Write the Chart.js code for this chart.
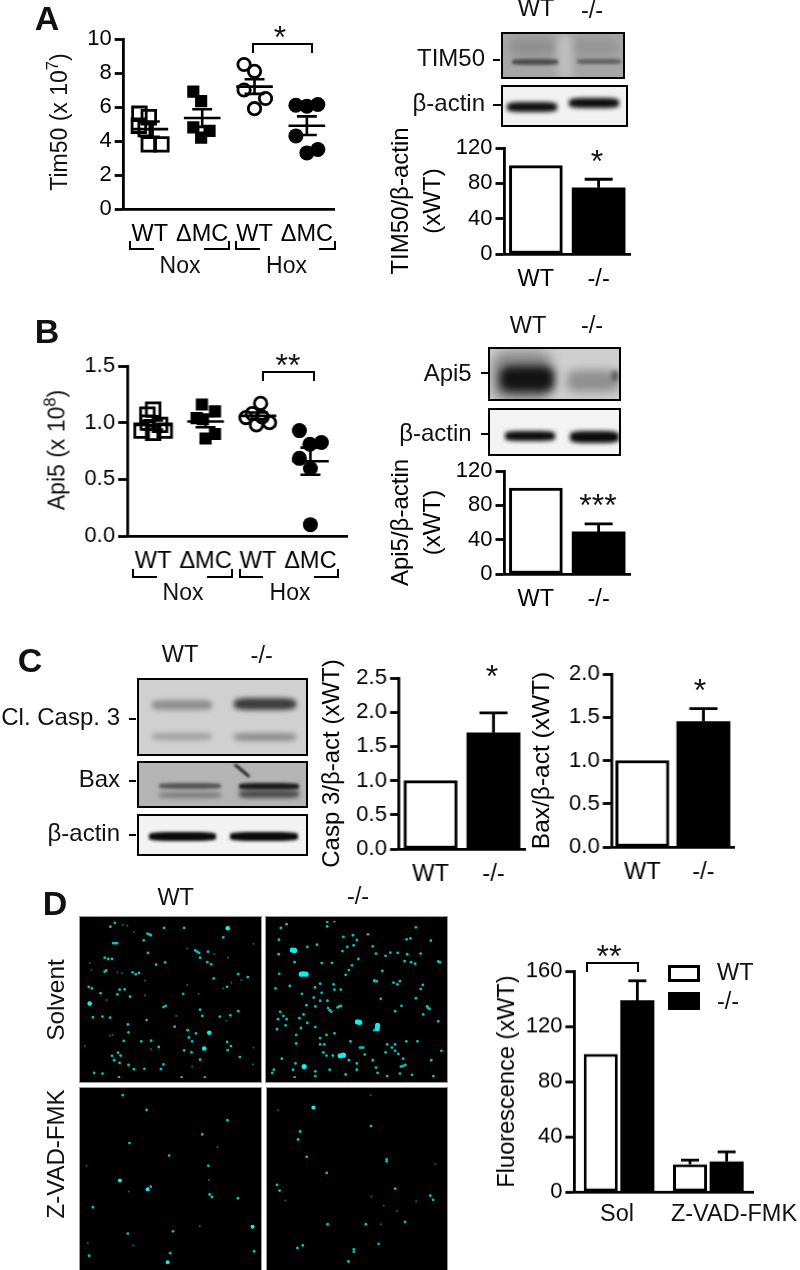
<!DOCTYPE html>
<html>
<head>
<meta charset="utf-8">
<script src="https://cdn.jsdelivr.net/npm/chart.js@4"></script>
<style>
  html, body { margin: 0; padding: 0; background: #fff; }
  #page { position: relative; width: 800px; height: 1270px; overflow: hidden; font-family: "Liberation Sans", Arial, sans-serif; color: #111; filter: blur(0.4px); }
  #page canvas { position: absolute; }
  .t { position: absolute; white-space: nowrap; line-height: 1; }
  .t sup { font-size: 0.72em; line-height: 0; }
  .blot { position: absolute; box-sizing: border-box; border: 2px solid #000; overflow: hidden; }
  .band { position: absolute; border-radius: 25%; }
  .brk { position: absolute; box-sizing: border-box; border: 0 solid #000; }
</style>
</head>
<body>
<div id="page"></div>
<script>
// ===== PANEL A, scatter =====
const scatterLabels = ['WT', 'ΔMC', 'WT', 'ΔMC'];
const tim50NoxWt = [[0.80, 5.6], [0.79, 4.9], [0.98, 5.4], [0.98, 3.8], [1.22, 3.8], [0.92, 4.7]];
const tim50NoxMc = [[1.83, 6.9], [1.98, 6.35], [1.83, 4.8], [2.14, 4.6], [1.98, 4.2]];
const tim50HoxWt = [[2.80, 8.5], [3.0, 8.1], [2.80, 7.0], [3.21, 6.5], [3.0, 5.9]];
const tim50HoxMc = [[3.79, 6.1], [4.0, 6.05], [4.21, 6.15], [3.79, 4.3], [4.21, 3.5], [4.0, 3.3]];
const tim50Mean = [4.7, 5.35, 7.2, 4.9];
const tim50Sem = [0.45, 0.52, 0.43, 0.55];

// ===== PANEL A, bars =====
const barCats = ['WT', '-/-'];
const tim50Bars = [100, 75];
const tim50Err = [0, 9.6];

// ===== PANEL B, scatter =====
const api5NoxWt = [[1.0, 1.115], [0.89, 1.07], [1.13, 0.98], [0.78, 0.93], [1.22, 0.93], [1.0, 0.91], [0.90, 1.0]];
const api5NoxMc = [[1.93, 1.16], [2.18, 1.10], [1.83, 1.04], [1.95, 1.03], [2.18, 0.90], [2.0, 0.86]];
const api5HoxWt = [[3.05, 1.17], [2.77, 1.045], [3.22, 1.0], [2.97, 0.98], [2.89, 1.08], [3.08, 1.05]];
const api5HoxMc = [[3.79, 0.93], [3.99, 0.81], [4.21, 0.825], [3.79, 0.685], [4.0, 0.595], [4.0, 0.10]];
const api5Mean = [0.98, 1.01, 1.06, 0.66];
const api5Sem = [0.04, 0.05, 0.03, 0.12];

// ===== PANEL B, bars =====
const api5Bars = [100, 49];
const api5Err = [0, 9.5];

// ===== PANEL C, bars =====
const caspBars = [1.0, 1.7];
const caspErr = [0, 0.29];
const baxBars = [1.0, 1.45];
const baxErr = [0, 0.15];

// ===== PANEL D, bars =====
const fluoCats = ['Sol', 'Z-VAD-FMK'];
const fluoWt = [100, 20];
const fluoKo = [139, 22];
const fluoWtErr = [0, 3];
const fluoKoErr = [14, 7];

// ===== PANEL D, fluorescent spots =====
const solWtDots = [[337,116],[323,128],[492,132],[555,132],[445,152],[678,162],[428,171],[338,180],[596,207],[605,226],[630,207],[441,211],[305,226],[316,230],[328,230],[467,248],[495,241],[628,240],[640,247],[310,266],[305,270],[393,272],[413,274],[403,278],[648,291],[725,278],[755,287],[255,318],[265,323],[352,327],[368,326],[345,342],[292,338],[385,349],[552,340],[690,318],[497,378],[490,382],[605,390],[725,395],[700,408],[667,412],[437,423],[322,415],[268,414],[298,412],[378,437],[525,444],[612,410],[566,455],[570,478],[580,490],[592,465],[380,462],[365,489],[420,490],[451,488],[475,508],[555,519],[578,525],[690,492],[702,505],[692,518],[730,540],[605,548],[347,526],[328,536],[355,535],[335,550],[352,558],[380,565],[397,578],[430,577],[490,563],[482,578],[272,590],[298,592],[350,604],[547,604],[620,604],[440,150],[450,155],[332,180],[344,180],[590,203],[602,211]];
const solWtBig = [[692,133],[258,371],[634,463],[618,513]];
const solWtDim = [[362,122],[376,125],[397,145],[773,182],[565,197],[650,215],[693,226],[263,265],[258,243],[345,272],[360,275],[432,298],[735,297],[703,305],[311,360],[432,345],[565,312],[678,323],[600,340],[530,410],[688,425],[322,472],[330,470],[450,515],[580,570],[773,510],[772,563],[242,505]];
const solKoDots = [[850,120],[832,132],[977,127],[1000,110],[977,112],[1255,130],[1105,152],[1058,155],[1028,160],[1070,170],[826,169],[1226,168],[1302,172],[1238,165],[1120,190],[945,185],[915,192],[1025,205],[1040,192],[1060,187],[1130,213],[1175,210],[1198,211],[1228,215],[1270,213],[825,215],[1160,220],[1075,230],[1055,250],[1220,237],[1240,240],[1253,245],[1325,238],[1330,240],[875,240],[960,243],[992,242],[1045,265],[827,277],[1150,268],[1125,300],[1035,280],[1205,300],[1197,310],[1185,305],[955,308],[1277,312],[1270,325],[997,310],[1000,327],[1020,327],[939,320],[860,315],[815,323],[960,337],[898,340],[935,352],[955,362],[1145,356],[1255,354],[978,362],[1210,378],[1290,380],[1298,388],[940,380],[912,376],[985,392],[1015,380],[1190,395],[830,397],[840,410],[850,420],[847,440],[890,417],[823,420],[903,405],[1278,405],[1325,427],[915,432],[940,445],[895,448],[820,452],[1125,455],[975,470],[1000,465],[955,480],[880,470],[1050,490],[1190,500],[1180,510],[1225,490],[1260,490],[880,497],[955,500],[968,500],[1085,510],[1160,525],[1190,520],[965,525],[975,535],[995,535],[1095,532],[1200,530],[1165,500],[835,545],[810,580],[805,590],[878,560],[870,580],[940,585],[940,600],[1045,550],[1215,545],[1215,568],[1303,550],[1070,560],[1070,580],[985,580],[875,604],[1035,595],[1135,590],[1165,600],[1205,592],[1243,596],[1310,600],[1335,520],[1130,573],[1120,550],[980,385],[990,396],[1010,383],[1020,378],[1293,384],[1125,298],[1132,300],[1080,510],[1090,510],[1208,570],[1222,565]];
const solKoBig = [[868,202],[875,203],[896,278],[903,277],[911,278],[1072,429],[1079,430],[1135,440],[1134,450],[1018,536],[1028,534],[905,570]];
const zvadWtDots = [[437,81],[691,113],[612,157],[383,184],[508,223],[631,255],[450,320],[635,344],[642,352],[724,356],[268,384],[520,459],[378,466],[511,527],[775,521],[256,535],[362,35]];
const zvadWtBig = [[353,301],[440,328],[770,445],[503,555]];
const zvadWtDim = [[381,335],[604,443],[252,495],[395,503],[633,299],[248,255],[660,197]];
const zvadKoDots = [[1114,131],[891,148],[885,173],[912,227],[1163,235],[1163,241],[975,277],[819,314],[827,332],[1190,326],[1300,348],[1309,361],[1221,430],[978,437],[1098,437],[900,503],[883,511],[1138,498],[1060,515],[1060,523],[1043,553]];
const zvadKoBig = [[933,73]];
const zvadKoDim = [[1113,35],[845,363],[1115,351],[1154,379],[1256,366],[1196,395],[1145,437],[822,82],[1316,250]];

const ink = '#000';
const fontFam = '"Liberation Sans", Arial, sans-serif';
const page = document.getElementById('page');

// --- html helpers ---
function txt(s, x, y, size, opt) {
  opt = opt || {};
  const d = document.createElement('div');
  d.className = 't';
  d.innerHTML = s;
  d.style.left = x + 'px';
  d.style.top = y + 'px';
  d.style.fontSize = size + 'px';
  if (opt.bold) d.style.fontWeight = 'bold';
  const tx = opt.right ? '-100%' : (opt.left ? '0' : '-50%');
  d.style.transform = `translate(${tx},-50%)` + (opt.rot ? ` rotate(${opt.rot}deg)` : '');
  page.appendChild(d);
}
function bracket(x, y, w, h, sides) {
  const d = document.createElement('div');
  d.className = 'brk';
  d.style.cssText = `left:${x}px;top:${y}px;width:${w}px;height:${h}px;`;
  sides.split(',').forEach(s => { d.style['border' + s + 'Width'] = '2.5px'; });
  page.appendChild(d);
}
function dash(x, y, w) { bracket(x, y, w, 2, 'Top'); }
function blot(x, y, w, h, bg, bands) {
  const p = document.createElement('div');
  p.className = 'blot';
  p.style.cssText = `left:${x}px;top:${y}px;width:${w}px;height:${h}px;background:${bg};`;
  bands.forEach(b => {
    const d = document.createElement('div');
    d.className = 'band';
    d.style.cssText = `left:${b[0] - x}px;top:${b[1] - y}px;width:${b[2]}px;height:${b[3]}px;background:${b[4]};filter:blur(${b[5]}px);` + (b[6] ? `transform:rotate(${b[6]}deg);` : '');
    p.appendChild(d);
  });
  page.appendChild(p);
}

// --- error bars on top of the bar elements ---
const errBars = {
  id: 'errBars',
  afterDatasetsDraw(chart, args, opts) {
    if (!opts.errs) return;
    const ctx = chart.ctx, y = chart.scales.y;
    chart.data.datasets.forEach((ds, i) => {
      chart.getDatasetMeta(i).data.forEach((el, j) => {
        const e = opts.errs[i][j];
        if (!e) return;
        const top = y.getPixelForValue(ds.data[j] + e), base = y.getPixelForValue(ds.data[j]);
        ctx.save();
        ctx.strokeStyle = ink;
        ctx.lineWidth = 2.8;
        ctx.beginPath();
        ctx.moveTo(el.x, base); ctx.lineTo(el.x, top);
        ctx.moveTo(el.x - opts.cap, top); ctx.lineTo(el.x + opts.cap, top);
        ctx.stroke();
        ctx.restore();
      });
    });
  }
};

// --- canvas placed so the plot area lands on a given box ---
function frame(b) {
  const lh = b.titleSize * (b.titleLH || 1.2);
  const left = b.titleX - lh / 2, pT = 34, pR = 10, xH = 48;
  const c = document.createElement('canvas');
  const W = b.right + pR - left, H = b.bottom + xH - (b.top - pT);
  c.width = W; c.height = H;
  c.style.left = left + 'px';
  c.style.top = (b.top - pT) + 'px';
  c.style.width = W + 'px';
  c.style.height = H + 'px';
  page.appendChild(c);
  return { c, pT, pR, xH, yW: b.left - left, lh };
}
function yAxis(b, f) {
  return {
    min: b.min, max: b.max,
    ticks: { stepSize: b.step, color: ink, padding: 3, font: { family: fontFam, size: 22 }, callback: b.fmt || (v => v) },
    border: { display: true, color: ink, width: 2.8 },
    grid: { drawOnChartArea: false, drawTicks: true, tickLength: 9, tickWidth: 2.8, tickColor: ink },
    title: { display: !!b.title, text: b.title, color: ink, padding: 0, font: { family: fontFam, size: b.titleSize, lineHeight: b.titleLH || 1.2 } },
    afterFit(s) { s.width = f.yW; }
  };
}
function xBase(f, pad) {
  return {
    border: { display: true, color: ink, width: 2.8 },
    grid: { display: false },
    afterFit(s) { s.height = f.xH; },
    ticks: { color: ink, padding: pad, autoSkip: false, maxRotation: 0, minRotation: 0, font: { family: fontFam, size: 23.5 } }
  };
}

function scatterPanel(b, groups, mean, sem) {
  const f = frame(b);
  const marks = [
    { pointStyle: 'rect', radius: 9.6, fill: 'transparent', line: 2.8 },
    { pointStyle: 'rect', radius: 8.6, fill: ink, line: 0 },
    { pointStyle: 'circle', radius: 6.2, fill: 'transparent', line: 2.8 },
    { pointStyle: 'circle', radius: 7.5, fill: ink, line: 0 }
  ];
  const datasets = [];
  groups.forEach((g, i) => {
    const m = marks[i];
    datasets.push({
      data: g.map(p => ({ x: p[0], y: p[1] })),
      pointStyle: m.pointStyle, pointRadius: m.radius, pointBackgroundColor: m.fill,
      pointBorderColor: ink, pointBorderWidth: m.line, showLine: false
    });
    const c = i + 1, seg = pts => datasets.push({
      data: pts.map(p => ({ x: p[0], y: p[1] })), showLine: true, pointRadius: 0, borderColor: ink, borderWidth: 2.6
    });
    seg([[c - 0.35, mean[i]], [c + 0.35, mean[i]]]);
    seg([[c, mean[i] - sem[i]], [c, mean[i] + sem[i]]]);
    seg([[c - 0.19, mean[i] + sem[i]], [c + 0.19, mean[i] + sem[i]]]);
    seg([[c - 0.19, mean[i] - sem[i]], [c + 0.19, mean[i] - sem[i]]]);
  });
  const x = xBase(f, b.xPad);
  x.type = 'linear';
  x.min = b.xMin; x.max = b.xMax;
  x.afterBuildTicks = s => { s.ticks = [1, 2, 3, 4].map(v => ({ value: v })); };
  x.ticks.callback = v => scatterLabels[v - 1];
  new Chart(f.c, {
    type: 'scatter',
    data: { datasets },
    options: {
      responsive: false, animation: false,
      layout: { padding: { top: f.pT, right: f.pR, left: 0, bottom: 0 } },
      plugins: { legend: { display: false }, tooltip: { enabled: false } },
      scales: { x, y: yAxis(b, f) }
    }
  });
}

function barPanel(b, cats, series, errs) {
  const f = frame(b);
  const fills = ['#fff', ink];
  const x = xBase(f, b.xPad);
  if (b.hideX) x.ticks.display = false;
  new Chart(f.c, {
    type: 'bar',
    data: {
      labels: cats,
      datasets: series.length > 1
        ? series.map((s, i) => ({ data: s, backgroundColor: fills[i], borderColor: ink, borderWidth: i ? 0 : 3, borderSkipped: false, categoryPercentage: 0.82, barPercentage: 0.93 }))
        : [{ data: series[0], backgroundColor: fills, borderColor: ink, borderWidth: [3, 0], borderSkipped: false, barThickness: b.barW }]
    },
    options: {
      responsive: false, animation: false,
      layout: { padding: { top: f.pT, right: f.pR, left: 0, bottom: 0 } },
      plugins: { legend: { display: false }, tooltip: { enabled: false }, errBars: { errs, cap: b.cap } },
      scales: { x, y: yAxis(b, f) }
    },
    plugins: [errBars]
  });
}

function micrograph(x, y, w, h, xr, yr, dots, big, dim, bigR) {
  const box = document.createElement('div');
  box.style.cssText = `position:absolute;left:${x}px;top:${y}px;width:${w}px;height:${h}px;background:#000;box-shadow:0 0 0 1px #999;`;
  page.appendChild(box);
  const c = document.createElement('canvas');
  c.width = w; c.height = h;
  c.style.cssText = `left:${x}px;top:${y}px;width:${w}px;height:${h}px;`;
  page.appendChild(c);
  const pts = l => (l || []).map(p => ({ x: p[0], y: p[1] }));
  new Chart(c, {
    type: 'scatter',
    data: { datasets: [
      { data: pts(dim), pointRadius: 1.1, pointBackgroundColor: '#0a5f60', pointBorderWidth: 0 },
      { data: pts(dots), pointRadius: 1.4, pointBackgroundColor: '#05c2c5', pointBorderWidth: 0 },
      { data: pts(big), pointRadius: bigR, pointBackgroundColor: '#0bf0f0', pointBorderWidth: 0 }
    ] },
    options: {
      responsive: false, animation: false,
      layout: { padding: 0 },
      plugins: { legend: { display: false }, tooltip: { enabled: false } },
      scales: {
        x: { display: false, min: xr[0], max: xr[1] },
        y: { display: false, min: yr[0], max: yr[1], reverse: true }
      }
    }
  });
}

const oneDec = v => v.toFixed(1);

// ===== PANEL A =====
txt('A', 47, 18, 34, { bold: true });
scatterPanel({ left: 123.5, right: 337, top: 38.5, bottom: 209, min: 0, max: 10, step: 2, xMin: 0.5, xMax: 4.53, xPad: 3,
  titleX: 60, titleSize: 22 }, [tim50NoxWt, tim50NoxMc, tim50HoxWt, tim50HoxMc], tim50Mean, tim50Sem);
txt('Tim50 (x 10<sup>7</sup>)', 59, 122, 23, { rot: -90 });
bracket(252, 43, 61, 10, 'Top,Left,Right');
txt('*', 280, 37, 32);
bracket(129, 241, 25, 9, 'Left,Bottom'); bracket(204, 241, 26, 9, 'Right,Bottom');
bracket(235, 241, 25, 9, 'Left,Bottom'); bracket(319, 241, 17, 9, 'Right,Bottom');
txt('Nox', 180, 265, 23); txt('Hox', 286.5, 265, 23);

txt('WT', 536, 9, 23.5); txt('-/-', 592, 11, 23.5);
txt('TIM50', 485, 58, 24, { right: true }); dash(493, 59, 7);
txt('β-actin', 485, 103, 24, { right: true }); dash(493, 104, 8);
blot(501, 32, 124, 47, '#a6a6a6', [
  [508, 36, 45, 18, '#8f8f8f', 5], [568, 36, 48, 18, '#959595', 5], [556, 32, 14, 47, '#c0c0c0', 4],
  [510, 57, 46, 6, '#4c4c4c', 1.5], [575, 57, 44, 5, '#606060', 1.5]
]);
blot(501, 85, 127, 42, '#f1f1f1', [
  [505, 100, 50, 10, '#111', 2], [567, 96, 50, 10, '#0d0d0d', 2]
]);
barPanel({ left: 504, right: 630, top: 147.7, bottom: 254, min: 0, max: 120, step: 40, xPad: 3, barW: 53, cap: 14,
  title: ['TIM50/β-actin', '(xWT)'], titleX: 400.7, titleSize: 24, titleLH: 1.35 }, barCats, [tim50Bars], [tim50Err]);
txt('*', 597, 161, 32);

// ===== PANEL B =====
txt('B', 47, 331, 34, { bold: true });
scatterPanel({ left: 127, right: 350, top: 365.7, bottom: 536, min: 0, max: 1.5, step: 0.5, fmt: oneDec, xMin: 0.504, xMax: 4.71, xPad: 3,
  titleX: 57.3, titleSize: 22 }, [api5NoxWt, api5NoxMc, api5HoxWt, api5HoxMc], api5Mean, api5Sem);
txt('Api5 (x 10<sup>8</sup>)', 57, 450, 23, { rot: -90 });
bracket(262, 371, 53, 10, 'Top,Left,Right');
txt('**', 288, 365, 32);
bracket(132, 569, 25, 9, 'Left,Bottom'); bracket(207, 569, 26, 9, 'Right,Bottom');
bracket(239, 569, 24, 9, 'Left,Bottom'); bracket(314, 569, 25, 9, 'Right,Bottom');
txt('Nox', 183, 592, 23); txt('Hox', 290, 592, 23);

txt('WT', 528, 326, 23.5); txt('-/-', 592, 326, 23.5);
txt('Api5', 471.7, 372.7, 24, { right: true }); dash(481, 372, 7);
txt('β-actin', 471.7, 432.7, 24, { right: true }); dash(481, 433, 7);
blot(487.7, 347, 133, 54, '#cfcfcf', [
  [490, 349, 60, 50, '#8a8a8a', 6], [498, 364, 54, 26, '#141414', 4], [565, 368, 52, 22, '#8f8f8f', 5], [610, 369, 6, 10, '#555', 2]
]);
blot(487.7, 407.7, 133.5, 48, '#f3f3f3', [
  [503, 429, 50, 10, '#0c0c0c', 2], [568, 429, 49, 12, '#0c0c0c', 2]
]);
barPanel({ left: 504, right: 630, top: 471, bottom: 574.3, min: 0, max: 120, step: 40, xPad: 3, barW: 53, cap: 14,
  title: ['Api5/β-actin', '(xWT)'], titleX: 400.7, titleSize: 24, titleLH: 1.35 }, barCats, [api5Bars], [api5Err]);
txt('***', 598, 505, 32);

// ===== PANEL C =====
txt('C', 30, 660, 34, { bold: true });
txt('WT', 180, 655, 23.5); txt('-/-', 261.7, 656, 23.5);
txt('Cl. Casp. 3', 120, 717, 24, { right: true }); dash(129, 718, 7);
txt('Bax', 120, 779, 24, { right: true }); dash(129, 780, 7);
txt('β-actin', 120, 833, 24, { right: true }); dash(129, 834, 7);
blot(136.7, 678, 171.5, 78, '#d0d0d0', [
  [150, 698, 60, 10, '#8d8d8d', 2.5], [232, 696, 62, 12, '#3c3c3c', 2.5],
  [150, 731, 60, 7, '#a0a0a0', 2.5], [232, 731, 62, 8, '#8f8f8f', 2.5]
]);
blot(136.7, 760.7, 171.5, 47.5, '#b4b4b4', [
  [157, 781, 62, 6, '#555', 1.5], [157, 790, 62, 6, '#7b7b7b', 2],
  [237, 781, 60, 7, '#1a1a1a', 1.5], [237, 788, 60, 8, '#4b4b4b', 2], [230.5, 767, 20, 3, '#222', 0.8, 40]
]);
blot(136.7, 814, 171.5, 42, '#f2f2f2', [
  [147, 830, 67, 9, '#0a0a0a', 1.4], [228, 830, 68, 9, '#0a0a0a', 1.4]
]);
barPanel({ left: 399, right: 525, top: 678.3, bottom: 849.3, min: 0, max: 2.5, step: 0.5, fmt: oneDec, xPad: 3, barW: 53, cap: 14,
  title: 'Casp 3/β-act (xWT)', titleX: 332.7, titleSize: 24 }, barCats, [caspBars], [caspErr]);
txt('*', 492, 676, 32);
barPanel({ left: 611.7, right: 734, top: 674.3, bottom: 847.3, min: 0, max: 2, step: 0.5, fmt: oneDec, xPad: 3, barW: 53, cap: 14,
  title: 'Bax/β-act (xWT)', titleX: 543, titleSize: 24.5 }, barCats, [baxBars], [baxErr]);
txt('*', 700, 690, 32);

// ===== PANEL D =====
txt('D', 55, 903, 34, { bold: true });
txt('WT', 175.7, 898, 23.5); txt('-/-', 358, 897, 23.5);
txt('Solvent', 56, 1000, 24.5, { rot: -90 });
txt('Z-VAD-FMK', 56, 1154, 24, { rot: -90 });
micrograph(80, 917, 181, 165, [240, 784], [110, 606], solWtDots, solWtBig, solWtDim, 2.3);
micrograph(266, 917, 181, 165, [798, 1340], [110, 606], solKoDots, solKoBig, null, 2.6);
micrograph(80, 1088, 181, 182, [240, 784], [25, 567], zvadWtDots, zvadWtBig, zvadWtDim, 2);
micrograph(267, 1088, 180, 182, [800, 1340], [25, 567], zvadKoDots, zvadKoBig, zvadKoDim, 2);

barPanel({ left: 574, right: 752.7, top: 971, bottom: 1191.7, min: 0, max: 160, step: 40, hideX: true, cap: 9,
  title: 'Fluorescence (xWT)', titleX: 506.7, titleSize: 23.5 }, fluoCats, [fluoWt, fluoKo], [fluoWtErr, fluoKoErr]);
bracket(586, 962, 53, 10, 'Top,Left,Right');
txt('**', 609, 956, 32);
txt(fluoCats[0], 617, 1214, 23.5); txt(fluoCats[1], 734, 1214, 23.5);
const legendWt = document.createElement('div');
legendWt.style.cssText = 'position:absolute;left:668px;top:965px;width:32px;height:17px;box-sizing:border-box;border:3px solid #000;background:#fff;';
page.appendChild(legendWt);
const legendKo = document.createElement('div');
legendKo.style.cssText = 'position:absolute;left:668px;top:992px;width:32px;height:18px;background:#000;';
page.appendChild(legendKo);
txt('WT', 717, 973, 23.5, { left: true }); txt('-/-', 717, 1002, 23.5, { left: true });
</script>
</body>
</html>
